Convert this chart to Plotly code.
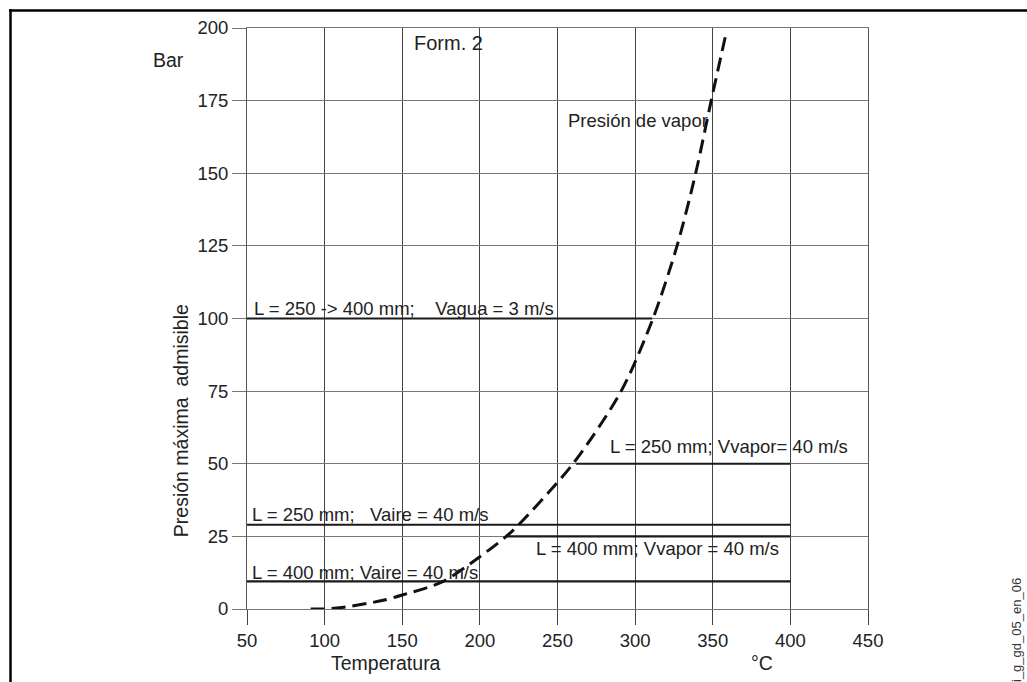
import plotly.graph_objects as go

# ---- data ----
x_ticks = [50, 100, 150, 200, 250, 300, 350, 400, 450]
y_ticks = [0, 25, 50, 75, 100, 125, 150, 175, 200]

# vapour pressure curve (dashed)
vapor_temp = [91, 100, 111, 137, 150, 176, 200, 217, 225, 260, 291, 311.5, 327, 339, 349, 358.5]
vapor_pres = [0, 0, 0.5, 2.9, 4.8, 9.4, 18, 25, 29, 50, 75, 100, 125, 150, 175, 198]

# horizontal limit lines
limit_pres = [100, 50, 29, 25, 9.5]
limit_t_start = [50, 262, 50, 217, 50]
limit_t_end = [311, 400, 400, 400, 400]
limit_labels = [
    "L = 250 -> 400 mm;\u00a0\u00a0\u00a0\u00a0Vagua = 3 m/s",
    "L = 250 mm; Vvapor= 40 m/s",
    "L = 250 mm;\u00a0\u00a0\u00a0Vaire = 40 m/s",
    "L = 400 mm; Vvapor = 40 m/s",
    "L = 400 mm; Vaire = 40 m/s",
]

FONT = "Liberation Sans, Arial, Helvetica, sans-serif"

fig = go.Figure()

for y, x0, x1 in zip(limit_pres, limit_t_start, limit_t_end):
    fig.add_trace(go.Scatter(x=[x0, x1], y=[y, y], mode="lines",
                             line=dict(color="#1a1a1a", width=2.2),
                             showlegend=False, hoverinfo="skip"))

fig.add_trace(go.Scatter(x=vapor_temp, y=vapor_pres, mode="lines",
                         line=dict(color="#111111", width=3, dash="14px,7px", shape="spline", smoothing=0.8),
                         showlegend=False, hoverinfo="skip"))

# label positions (data coords): left x, centre y
label_pos = [(53, 103.3), (282.5, 55.8), (52, 32.7), (235, 20.7), (52, 12.4)]
LAB = 18.5
ann = []
for (lx, ly), txt in zip(label_pos, limit_labels):
    ann.append(dict(x=lx, y=ly, xref="x", yref="y", text=txt, showarrow=False,
                    xanchor="left", yanchor="middle", font=dict(size=LAB, color="#222")))

ann += [
    dict(x=156.3, y=194.8, xref="x", yref="y", text="Form. 2", showarrow=False,
         xanchor="left", yanchor="middle", font=dict(size=20, color="#222")),
    dict(x=255.5, y=168.3, xref="x", yref="y", text="Presión de vapor", showarrow=False,
         xanchor="left", yanchor="middle", font=dict(size=LAB, color="#222")),
    dict(x=-0.127, y=189, xref="paper", yref="y", text="Bar", showarrow=False,
         xanchor="center", yanchor="middle", font=dict(size=19.5, color="#222")),
    dict(x=-0.1063, y=65, xref="paper", yref="y", text="Presión máxima\u00a0\u00a0admisible",
         showarrow=False, textangle=-90, xanchor="center", yanchor="middle",
         font=dict(size=19.5, color="#222")),
    dict(x=139.6, y=-0.093, xref="x", yref="paper", text="Temperatura", showarrow=False,
         xanchor="center", yanchor="middle", font=dict(size=19.5, color="#222")),
    dict(x=381.8, y=-0.093, xref="x", yref="paper", text="°C", showarrow=False,
         xanchor="center", yanchor="middle", font=dict(size=19.5, color="#222")),
    dict(x=(1016 - 247) / 621, y=(609 - 576) / 581, xref="paper", yref="paper",
         text="i_g_gd_05_en_06", showarrow=False, textangle=-90,
         xanchor="center", yanchor="top", font=dict(size=13, color="#333")),
]

# outer frame (top and left border)
def px_x(p):
    return (p - 247) / 621

def px_y(p):
    return (609 - p) / 581

shapes = [
    dict(type="line", xref="paper", yref="paper", x0=px_x(9), x1=px_x(1030),
         y0=px_y(10.5), y1=px_y(10.5), line=dict(color="black", width=2.5)),
    dict(type="line", xref="paper", yref="paper", x0=px_x(10.5), x1=px_x(10.5),
         y0=px_y(9), y1=px_y(690), line=dict(color="black", width=2.5)),
]

fig.update_layout(
    width=1027, height=682,
    margin=dict(l=247, r=159, t=28, b=73),
    paper_bgcolor="white", plot_bgcolor="white",
    font=dict(family=FONT, size=16, color="#222"),
    annotations=ann, shapes=shapes,
    showlegend=False,
)
fig.update_xaxes(range=[50, 450], tickvals=x_ticks, ticktext=[str(v) for v in x_ticks],
                 ticks="outside", ticklen=15, tickcolor="#444", tickwidth=1,
                 showgrid=True, gridcolor="#444", gridwidth=1,
                 showline=True, linecolor="#777", linewidth=1, mirror=True,
                 zeroline=False, tickfont=dict(size=18.5, color="#222"))
fig.update_yaxes(range=[0, 200], tickvals=y_ticks, ticktext=[str(v) for v in y_ticks],
                 ticks="outside", ticklen=14, tickcolor="#777", tickwidth=1,
                 showgrid=True, gridcolor="#777", gridwidth=1,
                 showline=True, linecolor="#555", linewidth=1, mirror=True,
                 zeroline=False, tickfont=dict(size=18.5, color="#222"))

fig.write_html("out.html")
